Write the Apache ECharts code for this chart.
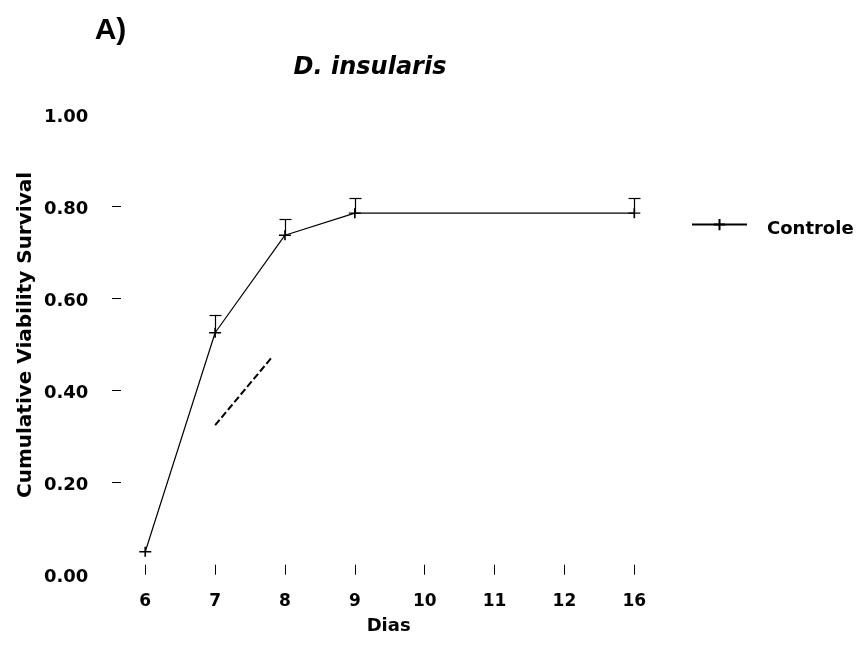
<!DOCTYPE html>
<html>
<head>
<meta charset="utf-8">
<title>D. insularis</title>
<script src="https://cdn.jsdelivr.net/npm/echarts@6/dist/echarts.min.js"></script>
<style>
  html, body { margin: 0; padding: 0; background: #fff; }
  #main { width: 859px; height: 653px; }
</style>
</head>
<body>
<div id="main"></div>
<script>
// Day labels on the x axis (evenly spaced slots)
const days = ['6', '7', '8', '9', '10', '11', '12', '16'];

// Controle: cumulative viability survival per day, with upper error limits
const controleDays  = ['6', '7', '8', '9', '16'];
const controleMean  = [0.05, 0.526, 0.738, 0.786, 0.786];
const controleUpper = [null, 0.565, 0.773, 0.818, 0.818];

// Dashed guide segment (x in day-slot units, y in survival units)
const guideX = [1, 1.82];
const guideY = [0.325, 0.474];

// Y axis tick labels and tick marks
const yLabels = [0, 0.2, 0.4, 0.6, 0.8, 1.0];
const yTicks  = [0.2, 0.4, 0.6, 0.8];

const FONT = 'DejaVu Sans';

// x slots: the first day sits a little to the right of the y axis
const slotIdx = days.map((d, i) => i);
const xStart = -0.347;

const controlePoints = controleDays.map((d, i) => [days.indexOf(d), controleMean[i]]);
const errorPoints = controleDays
  .map((d, i) => [days.indexOf(d), controleMean[i], controleUpper[i]])
  .filter(r => r[2] != null);
const guidePoints = guideX.map((x, i) => [x, guideY[i]]);

const plusSymbol = 'path://M6,0 L6,10 M0,5 L12,5';

const chart = echarts.init(document.getElementById('main'), null, { renderer: 'canvas' });

chart.setOption({
  animation: false,
  backgroundColor: '#ffffff',
  grid: { left: 121, right: 224.7, top: 114.7, bottom: 78.3 },
  xAxis: {
    type: 'value',
    min: xStart,
    max: days.length - 1,
    axisLine: { show: false, onZero: false },
    splitLine: { show: false },
    axisTick: { show: true, inside: true, length: 10, customValues: slotIdx, lineStyle: { color: '#000', width: 1 } },
    axisLabel: {
      customValues: slotIdx,
      formatter: v => days[Math.round(v)],
      margin: 18,
      color: '#000',
      fontFamily: FONT,
      fontWeight: 'bold',
      fontSize: 17
    },
    name: 'Dias',
    nameLocation: 'middle',
    nameGap: 43,
    nameTextStyle: { color: '#000', fontFamily: FONT, fontWeight: 'bold', fontSize: 18, padding: [0, 0, 0, 22] }
  },
  yAxis: {
    type: 'value',
    min: 0,
    max: 1,
    interval: 0.2,
    axisLine: { show: false, onZero: false },
    splitLine: { show: false },
    axisTick: { show: true, length: 9, customValues: yTicks, lineStyle: { color: '#000', width: 1 } },
    axisLabel: {
      customValues: yLabels,
      formatter: v => '{n|' + v.toFixed(2) + '}',
      margin: 32.7,
      rich: {
        n: { padding: [6, 0, 0, 0], color: '#000', fontFamily: FONT, fontWeight: 'bold', fontSize: 18 }
      }
    }
  },
  legend: {
    data: ['Controle'],
    left: 686,
    top: 213,
    itemWidth: 55,
    itemHeight: 14,
    formatter: '{t|Controle}',
    textStyle: {
      rich: {
        t: { padding: [10, 0, 0, 15], color: '#000', fontFamily: FONT, fontWeight: 'bold', fontSize: 18 }
      }
    }
  },
  graphic: [
    {
      type: 'text', x: 110.5, y: 31,
      style: { text: 'A)', font: 'bold 30px "Liberation Sans", Arial, sans-serif', fill: '#000',
               align: 'center', verticalAlign: 'middle', textAlign: 'center', textVerticalAlign: 'middle' }
    },
    {
      type: 'text', x: 370, y: 68,
      style: { text: 'D. insularis', font: 'italic bold 24px "DejaVu Sans"', fill: '#000',
               align: 'center', verticalAlign: 'middle', textAlign: 'center', textVerticalAlign: 'middle' }
    },
    {
      type: 'text', x: 26, y: 335, rotation: Math.PI / 2,
      style: { text: 'Cumulative Viability Survival', font: 'bold 20px "DejaVu Sans"', fill: '#000',
               align: 'center', verticalAlign: 'middle', textAlign: 'center', textVerticalAlign: 'middle' }
    }
  ],
  series: [
    {
      name: 'Controle',
      type: 'line',
      data: controlePoints,
      symbol: plusSymbol,
      symbolSize: [12, 10],
      showSymbol: true,
      lineStyle: { color: '#000', width: 1.2 },
      itemStyle: { color: '#000', borderColor: '#000', borderWidth: 1.5 },
      z: 3
    },
    {
      name: 'Controle error',
      type: 'custom',
      data: errorPoints,
      silent: true,
      renderItem: function (params, api) {
        const x = api.value(0);
        const p = api.coord([x, api.value(1)]);
        const t = api.coord([x, api.value(2)]);
        const cx = Math.round(p[0]) + 0.5;
        const ty = Math.round(t[1]) + 0.5;
        return {
          type: 'group',
          children: [
            { type: 'line', shape: { x1: cx, y1: p[1], x2: cx, y2: ty }, style: { stroke: '#000', lineWidth: 1.2 } },
            { type: 'line', shape: { x1: cx - 6, y1: ty, x2: cx + 6, y2: ty }, style: { stroke: '#000', lineWidth: 1.2 } }
          ]
        };
      },
      z: 2
    },
    {
      name: 'guide',
      type: 'line',
      data: guidePoints,
      symbol: 'none',
      silent: true,
      lineStyle: { color: '#000', width: 2, type: [7, 3] },
      z: 2
    }
  ]
});
</script>
</body>
</html>
